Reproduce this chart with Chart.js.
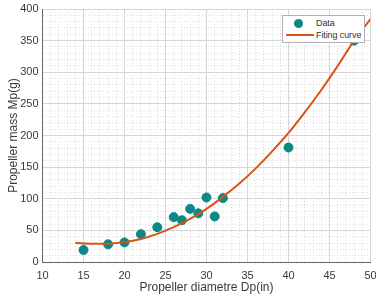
<!DOCTYPE html>
<html>
<head>
<meta charset="utf-8">
<script src="https://cdn.jsdelivr.net/npm/chart.js@4.4.1/dist/chart.umd.min.js"></script>
<style>
  html, body { margin: 0; padding: 0; background: #fff; }
  #wrap { position: relative; width: 376px; height: 295px; }
  #legend {
    position: absolute; left: 282px; top: 15px; width: 81px; height: 26px;
    border: 1px solid #b0b0b0; background: #fff;
    font-family: "Liberation Sans", Arial, sans-serif; font-size: 9px; color: #333;
  }
  .row { position: absolute; left: 0; height: 12px; line-height: 12px; }
  .txt { position: absolute; left: 33px; white-space: nowrap; letter-spacing: -0.1px; }
  .dot { position: absolute; left: 11px; top: 2px; width: 9px; height: 9px; border-radius: 50%; background: #0a8985; }
  .ln { position: absolute; left: 3px; top: 5px; width: 28px; height: 2px; background: #d95319; }
</style>
</head>
<body>
<div id="wrap">
  <canvas id="chart" width="376" height="295"></canvas>
  <div id="legend">
    <div class="row" style="top:1px"><span class="dot"></span><span class="txt">Data</span></div>
    <div class="row" style="top:13px"><span class="ln"></span><span class="txt">Fiting curve</span></div>
  </div>
</div>
<script>
// measured data
const diameters = [15, 18, 20, 22, 24, 26, 27, 28, 29, 30, 31, 32, 40, 48];
const masses = [19, 28, 31, 44, 55, 71, 66, 84, 77, 102, 72, 101, 181, 350];

// fitting curve
const fitX = [14, 16, 18, 20, 22, 24, 26, 28, 30, 32, 34, 36, 38, 40, 42, 44, 46, 48, 50];
const fitY = [30, 29, 29, 31.5, 36.5, 44.5, 55, 68, 84, 103, 124, 148, 175, 204, 237, 272, 310, 350, 384];

const xTicks = [10, 15, 20, 25, 30, 35, 40, 45, 50];
const yTicks = [0, 50, 100, 150, 200, 250, 300, 350, 400];

const fontFamily = '"Liberation Sans", Arial, sans-serif';
const teal = '#0a8985';
const orange = '#d95319';

const config = {
    type: 'scatter',
    data: {
        datasets: [{
            label: 'Data',
            data: diameters.map((d, i) => ({x: d, y: masses[i]})),
            backgroundColor: teal,
            borderColor: teal,
            pointRadius: 4.5,
            borderWidth: 1,
            order: 2
        }, {
            label: 'Fiting curve',
            data: fitX.map((d, i) => ({x: d, y: fitY[i]})),
            showLine: true,
            borderColor: orange,
            borderWidth: 2,
            pointRadius: 0,
            cubicInterpolationMode: 'monotone',
            order: 1
        }]
    },
    options: {
        responsive: false,
        animation: false,
        layout: { padding: { top: 9, right: 2, left: 0, bottom: 0 } },
        plugins: {
            legend: { display: false },
            tooltip: { enabled: false }
        },
        scales: {
            x: {
                type: 'linear',
                min: 10,
                max: 50,
                afterFit: s => { s.height = 33; s.paddingLeft = 0; s.paddingRight = 0; },
                border: { color: '#666', dash: ctx => (ctx.tick && ctx.tick.value % 5 !== 0) ? [1, 2] : [] },
                grid: {
                    drawTicks: false,
                    color: ctx => ctx.tick.value % 5 === 0 ? '#d6d6d6' : '#dcdcdc',
                    lineWidth: 1
                },
                ticks: {
                    stepSize: 1,
                    autoSkip: false,
                    maxRotation: 0,
                    padding: 7,
                    color: '#3a3a3a',
                    font: { family: fontFamily, size: 11 },
                    callback: v => xTicks.includes(v) ? v : ''
                },
                title: {
                    display: true,
                    text: 'Propeller diametre Dp(in)',
                    color: '#3a3a3a',
                    font: { family: fontFamily, size: 12 },
                    padding: { top: 0, bottom: 0 }
                }
            },
            y: {
                min: 0,
                max: 400,
                afterFit: s => { s.width = 42.5; s.paddingTop = 0; s.paddingBottom = 0; },
                border: { color: '#666', dash: ctx => (ctx.tick && ctx.tick.value % 50 !== 0) ? [1, 2] : [] },
                grid: {
                    drawTicks: false,
                    color: ctx => ctx.tick.value % 50 === 0 ? '#d6d6d6' : '#dcdcdc',
                    lineWidth: 1
                },
                ticks: {
                    stepSize: 10,
                    autoSkip: false,
                    padding: 4,
                    color: '#3a3a3a',
                    font: { family: fontFamily, size: 11 },
                    callback: v => yTicks.includes(v) ? v : ''
                },
                title: {
                    display: true,
                    text: 'Propeller mass Mp(g)',
                    color: '#3a3a3a',
                    font: { family: fontFamily, size: 12 },
                    padding: { top: 6, bottom: 0 }
                }
            }
        }
    }
};

const chart = new Chart(document.getElementById('chart'), config);
</script>
</body>
</html>
